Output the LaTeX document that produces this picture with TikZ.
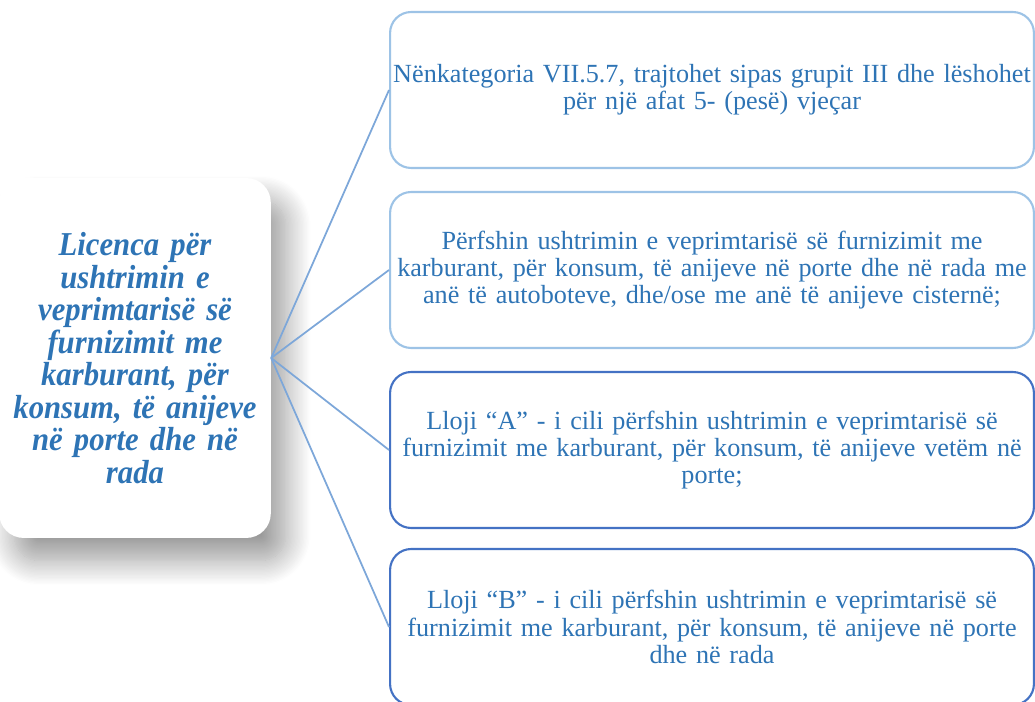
\documentclass[tikz,border=0pt]{standalone}
\usepackage{fontspec}
\setmainfont{Liberation Serif}
\newfontfamily\licfont[FakeStretch=0.92]{Liberation Serif}
\usepackage{xcolor}
\usepackage{tikz}
\usetikzlibrary{shadows.blur}
\usetikzlibrary{positioning}
\definecolor{txtblue}{HTML}{2E74B5}
\definecolor{lightedge}{HTML}{9DC3E6}
\definecolor{darkedge}{HTML}{4472C4}
\definecolor{linkblue}{HTML}{7DA7D9}
\tikzstyle{licbox}=[rectangle,rounded corners=14pt,fill=white,align=center,
text width=5.2cm,minimum width=5.3cm,minimum height=7.2cm,text=txtblue,
font=\licfont\fontsize{19}{18.5}\selectfont\bfseries\itshape,
blur shadow={shadow xshift=0.3cm,shadow yshift=-0.45cm,shadow blur radius=0.5cm,
shadow blur steps=20,shadow opacity=40}]
\tikzstyle{subbox}=[draw,rectangle,rounded corners=12pt,line width=1.2pt,fill=white,align=center,
inner sep=0pt,text width=12.85cm,minimum width=12.88cm,minimum height=3.12cm,text=txtblue,
font=\fontsize{14.9}{15.6}\selectfont]
\tikzstyle{link}=[draw,line width=1pt,-,linkblue]

\begin{document}
\begin{tikzpicture}[x=0.02cm,y=-0.02cm]
	\useasboundingbox (0,0) rectangle (1035,702);

	\node[licbox] (lic) at (135,358) {Licenca për\\ ushtrimin e\\ veprimtarisë së\\ furnizimit me\\ karburant, për\\ konsum, të anijeve\\ në porte dhe në\\ rada};

	\node[subbox,draw=lightedge] (nk) at (712,90) {Nënkategoria VII.5.7, trajtohet sipas grupit III dhe lëshohet\\ për një afat 5- (pesë) vjeçar};
	\node[subbox,draw=lightedge] (pf) at (712,270) {Përfshin ushtrimin e veprimtarisë së furnizimit me\\ karburant, për konsum, të anijeve në porte dhe në rada me\\ anë të autoboteve, dhe/ose me anë të anijeve cisternë;};
	\node[subbox,draw=darkedge] (la) at (712,450) {Lloji “A” - i cili përfshin ushtrimin e veprimtarisë së\\ furnizimit me karburant, për konsum, të anijeve vetëm në\\ porte;};
	\node[subbox,draw=darkedge] (lb) at (712,627) {Lloji “B” - i cili përfshin ushtrimin e veprimtarisë së\\ furnizimit me karburant, për konsum, të anijeve në porte\\ dhe në rada};

	\path[link] (lic.east) -- (nk.west);
	\path[link] (lic.east) -- (pf.west);
	\path[link] (lic.east) -- (la.west);
	\path[link] (lic.east) -- (lb.west);

\end{tikzpicture}
\end{document}
